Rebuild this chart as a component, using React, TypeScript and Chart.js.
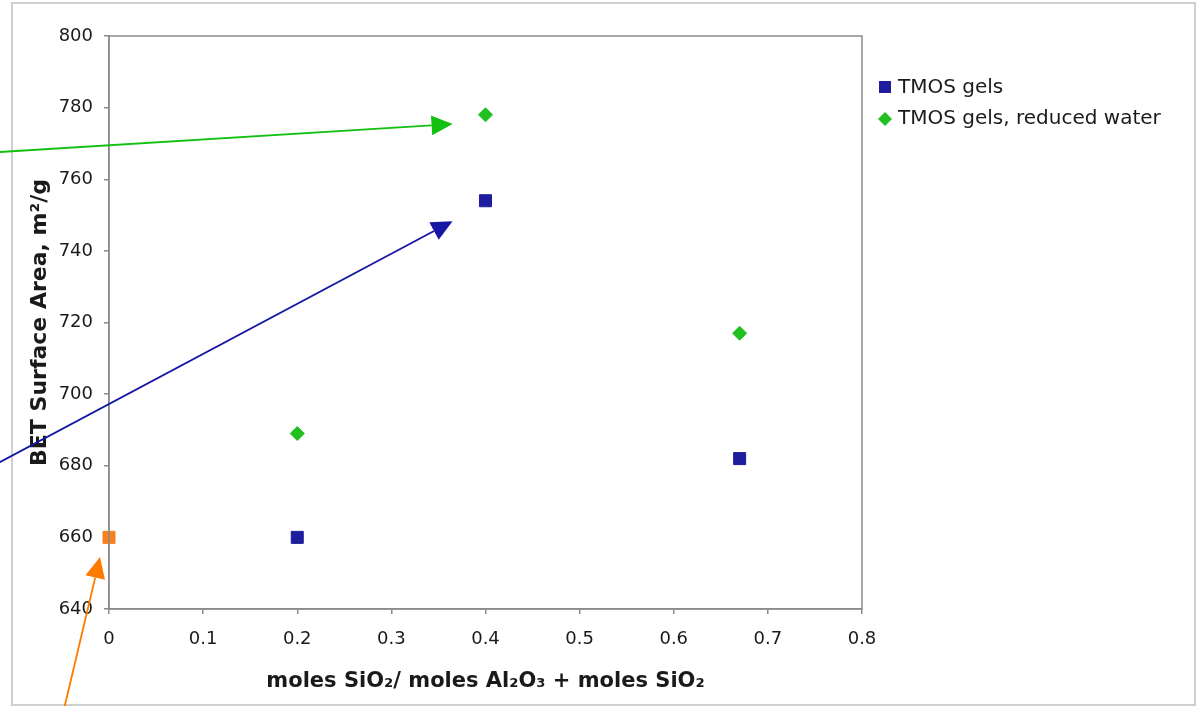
import React, { useEffect, useRef } from "react";
import { Chart, registerables } from "chart.js";

Chart.register(...registerables);

// ---- data ----
const xRatio = [0.2, 0.4, 0.67];
const tmosGels = [660, 754, 682];
const tmosReducedWater = [689, 778, 717];
const aluminaX = [0];
const aluminaValue = [660];
const seriesLabels = ["TMOS gels", "TMOS gels, reduced water"];
const xTickValues = [0, 0.1, 0.2, 0.3, 0.4, 0.5, 0.6, 0.7, 0.8];
const yTickValues = [640, 660, 680, 700, 720, 740, 760, 780, 800];
const xAxisTitle = "moles SiO\u2082/ moles Al\u2082O\u2083 + moles SiO\u2082";
const yAxisTitle = "BET Surface Area, m\u00B2/g";

// annotation arrows (data units): start -> tip
const arrowStartX = [-0.116, -0.116, -0.047];
const arrowStartY = [767.6, 681.0, 612.9];
const arrowTipX = [0.365, 0.365, -0.0095];
const arrowTipY = [775.4, 748.3, 654.5];

const COLORS = {
  blue: "#1d1d9e",
  green: "#20c020",
  orange: "#f7801f",
  arrowBlue: "#1616a6",
  arrowGreen: "#12c012",
  arrowOrange: "#ff7a00",
  axis: "#8a8a8a",
  text: "#1a1a1a",
};
const arrowColors = [COLORS.arrowGreen, COLORS.arrowBlue, COLORS.arrowOrange];

const framePlugin = {
  id: "framePlugin",
  beforeDraw(chart: any) {
    const { ctx, width, height } = chart;
    ctx.save();
    ctx.fillStyle = "#ffffff";
    ctx.fillRect(0, 0, width, height);
    ctx.strokeStyle = "#cfcfcf";
    ctx.lineWidth = 2;
    ctx.strokeRect(12, 3, width - 13, height - 4);
    ctx.restore();
  },
  afterDraw(chart: any) {
    const { ctx, chartArea } = chart;
    const xs = chart.scales.x;
    const ys = chart.scales.y;
    ctx.save();
    // plot border
    ctx.strokeStyle = COLORS.axis;
    ctx.lineWidth = 1.5;
    ctx.strokeRect(
      chartArea.left,
      chartArea.top,
      chartArea.right - chartArea.left,
      chartArea.bottom - chartArea.top
    );
    // arrows
    for (let i = 0; i < arrowStartX.length; i++) {
      const x0 = xs.getPixelForValue(arrowStartX[i]);
      const y0 = ys.getPixelForValue(arrowStartY[i]);
      const x1 = xs.getPixelForValue(arrowTipX[i]);
      const y1 = ys.getPixelForValue(arrowTipY[i]);
      const ang = Math.atan2(y1 - y0, x1 - x0);
      const len = 21;
      const half = 10;
      const bx = x1 - Math.cos(ang) * len;
      const by = y1 - Math.sin(ang) * len;
      ctx.strokeStyle = arrowColors[i];
      ctx.fillStyle = arrowColors[i];
      ctx.lineWidth = 1.8;
      ctx.beginPath();
      ctx.moveTo(x0, y0);
      ctx.lineTo(bx, by);
      ctx.stroke();
      ctx.beginPath();
      ctx.moveTo(x1, y1);
      ctx.lineTo(bx + Math.sin(ang) * half, by - Math.cos(ang) * half);
      ctx.lineTo(bx - Math.sin(ang) * half, by + Math.cos(ang) * half);
      ctx.closePath();
      ctx.fill();
    }
    // legend
    const lx = chartArea.right + 23;
    const tx = chartArea.right + 36;
    const rows = [chartArea.top + 52, chartArea.top + 83];
    ctx.font = "20px 'DejaVu Sans'";
    ctx.textBaseline = "middle";
    ctx.textAlign = "left";
    // square
    ctx.fillStyle = COLORS.blue;
    ctx.fillRect(lx - 6, rows[0] - 7, 12, 12);
    // diamond
    ctx.fillStyle = COLORS.green;
    ctx.beginPath();
    ctx.moveTo(lx, rows[1] - 7);
    ctx.lineTo(lx + 7, rows[1]);
    ctx.lineTo(lx, rows[1] + 7);
    ctx.lineTo(lx - 7, rows[1]);
    ctx.closePath();
    ctx.fill();
    ctx.fillStyle = COLORS.text;
    ctx.fillText(seriesLabels[0], tx, rows[0]);
    ctx.fillText(seriesLabels[1], tx, rows[1]);
    ctx.restore();
  },
};

export default function App() {
  const ref = useRef<HTMLCanvasElement | null>(null);

  useEffect(() => {
    if (!ref.current) return;
    const chart = new Chart(ref.current, {
      type: "scatter",
      data: {
        datasets: [
          {
            label: seriesLabels[0],
            data: xRatio.map((x, i) => ({ x, y: tmosGels[i] })),
            pointStyle: "rect",
            pointRadius: 8.5,
            pointHoverRadius: 8.5,
            backgroundColor: COLORS.blue,
            borderColor: COLORS.blue,
            borderWidth: 1,
            clip: false,
          },
          {
            label: seriesLabels[1],
            data: xRatio.map((x, i) => ({ x, y: tmosReducedWater[i] })),
            pointStyle: "rectRot",
            pointRadius: 7,
            pointHoverRadius: 7,
            backgroundColor: COLORS.green,
            borderColor: COLORS.green,
            borderWidth: 1,
            clip: false,
          },
          {
            label: "Al2O3",
            data: aluminaX.map((x, i) => ({ x, y: aluminaValue[i] })),
            pointStyle: "rect",
            pointRadius: 8.5,
            pointHoverRadius: 8.5,
            backgroundColor: COLORS.orange,
            borderColor: COLORS.orange,
            borderWidth: 1,
            clip: false,
          },
        ],
      },
      options: {
        responsive: false,
        animation: false,
        events: [],
        layout: { padding: { left: 0, top: 36, right: 334, bottom: 0 } },
        plugins: {
          legend: { display: false },
          tooltip: { enabled: false },
        },
        scales: {
          x: {
            type: "linear",
            min: xTickValues[0],
            max: xTickValues[xTickValues.length - 1],
            afterBuildTicks: (scale: any) => {
              scale.ticks = xTickValues.map((v) => ({ value: v }));
            },
            afterFit: (scale: any) => {
              scale.height = 97;
            },
            grid: {
              drawOnChartArea: false,
              drawTicks: true,
              tickLength: 5,
              color: COLORS.axis,
              lineWidth: 1.5,
            },
            border: { display: true, color: COLORS.axis, width: 1.5 },
            ticks: {
              padding: 15,
              color: COLORS.text,
              font: { family: "'DejaVu Sans'", size: 18 },
              callback: (v: any) => (Number(v) === 0 ? "0" : Number(v).toFixed(1)),
            },
            title: {
              display: true,
              text: xAxisTitle,
              color: COLORS.text,
              font: { family: "'DejaVu Sans'", size: 21, weight: "bold" },
              padding: { top: 0, bottom: 12 },
            },
          },
          y: {
            type: "linear",
            min: yTickValues[0],
            max: yTickValues[yTickValues.length - 1],
            afterBuildTicks: (scale: any) => {
              scale.ticks = yTickValues.map((v) => ({ value: v }));
            },
            afterFit: (scale: any) => {
              scale.width = 109;
            },
            grid: {
              drawOnChartArea: false,
              drawTicks: true,
              tickLength: 5,
              color: COLORS.axis,
              lineWidth: 1.5,
            },
            border: { display: true, color: COLORS.axis, width: 1.5 },
            ticks: {
              padding: 11,
              color: COLORS.text,
              font: { family: "'DejaVu Sans'", size: 18 },
            },
            title: {
              display: true,
              text: yAxisTitle,
              color: COLORS.text,
              font: { family: "'DejaVu Sans'", size: 22, weight: "bold" },
              padding: { top: 27, bottom: 0 },
            },
          },
        },
      },
      plugins: [framePlugin],
    } as any);
    return () => chart.destroy();
  }, []);

  return (
    <div style={{ position: "fixed", left: 0, top: 0, width: 1196, height: 706 }}>
      <canvas ref={ref} width={1196} height={706} />
    </div>
  );
}
